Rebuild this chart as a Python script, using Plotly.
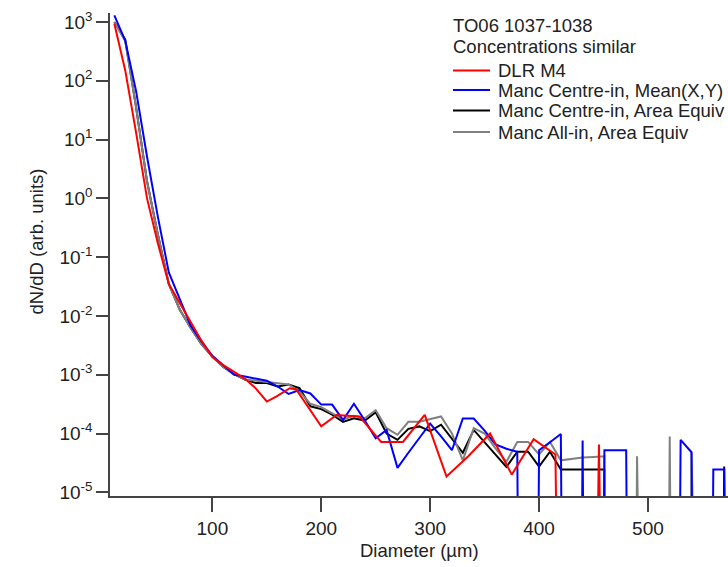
import plotly.graph_objects as go

# ---------------- data ----------------
# 0 means "no counts" (drawn as a drop off the bottom of the log axis, as in the original)
manc_x = [10, 20, 30, 40, 50, 60, 70, 80, 90, 100, 110, 120, 130, 140, 150, 160, 170, 180, 190, 200,
          210, 220, 230, 240, 250, 260, 270, 280, 290, 300, 310, 320, 330, 340, 350, 360, 370, 380, 390, 400,
          410, 420, 430, 440, 450, 460, 470, 480, 490, 500, 510, 520, 530, 540, 550, 560, 570, 580]

blue_mean_xy = [1.3e3, 4.8e2, 66, 5.1, 0.48, 0.055, 0.0195, 6.9e-3, 3.7e-3, 2.1e-3,
                1.45e-3, 1.0e-3, 9.3e-4, 8.7e-4, 7.9e-4, 6.3e-4, 4.7e-4, 5.5e-4, 4.8e-4, 3.1e-4,
                3.1e-4, 1.7e-4, 3.2e-4, 1.66e-4, 8.3e-5, 1.15e-4, 2.6e-5, 4.7e-5, 8.5e-5, 1.48e-4,
                8.9e-5, 5.2e-5, 1.8e-4, 1.8e-4, 1.12e-4, 6.5e-5, 5.5e-5, 4.9e-5, 0, 5.2e-5,
                7.1e-5, 9.8e-5, 0, 7.6e-5, 0, 5.2e-5, 5.2e-5, 5.2e-5, 0, 0,
                0, 0, 7.8e-5, 4.8e-5, 0, 2.45e-5, 2.45e-5, 0]

black_centre_area = [1.0e3, 5.0e2, 35, 1.95, 0.24, 0.035, 0.0129, 6.3e-3, 3.3e-3, 2.04e-3,
                     1.35e-3, 1.02e-3, 8.3e-4, 7.2e-4, 7.2e-4, 6.3e-4, 6.8e-4, 5.9e-4, 2.9e-4, 2.6e-4,
                     2.1e-4, 1.58e-4, 1.82e-4, 1.66e-4, 2.3e-4, 1.0e-4, 7.8e-5, 1.2e-4, 1.32e-4, 1.1e-4,
                     1.41e-4, 8.3e-5, 4.7e-5, 1.15e-4, 7.1e-5, 4.3e-5, 2.7e-5, 4.9e-5, 4.9e-5, 2.75e-5,
                     4.9e-5, 2.45e-5, 2.45e-5, 2.45e-5, 2.45e-5, 2.45e-5, 0, 0, 0, 0,
                     0, 0, 0, 0, 0, 0, 2.75e-5, 0]

gray_allin_area = [1.0e3, 4.7e2, 35, 1.95, 0.24, 0.035, 0.0129, 6.3e-3, 3.3e-3, 2.04e-3,
                   1.35e-3, 1.02e-3, 8.3e-4, 7.9e-4, 7.6e-4, 7.1e-4, 6.8e-4, 5.2e-4, 3.2e-4, 2.8e-4,
                   2.24e-4, 1.74e-4, 2.0e-4, 1.82e-4, 2.5e-4, 1.23e-4, 9.5e-5, 1.58e-4, 1.58e-4, 1.74e-4,
                   1.95e-4, 1.0e-4, 3.5e-5, 1.23e-4, 1.0e-4, 5.6e-5, 3.3e-5, 7.2e-5, 7.2e-5, 4.4e-5,
                   7.2e-5, 3.5e-5, 3.7e-5, 3.9e-5, 4.0e-5, 4.1e-5, 0, 0, 4.1e-5, 0,
                   0, 8.9e-5, 0, 4.8e-5, 0, 0, 0, 0]

dlr_x = [10, 20, 30, 40, 50, 60, 70, 80, 90, 100, 110, 120, 130, 140, 150, 159, 171, 177, 200, 214,
         223, 235, 255, 275, 295, 315, 335, 355, 375, 395, 415, 435, 455, 475]
dlr_m4 = [9.3e2, 1.5e2, 13, 1.0, 0.17, 0.035, 0.0166, 7.8e-3, 3.8e-3, 2.0e-3,
          1.45e-3, 1.12e-3, 8.5e-4, 5.8e-4, 3.5e-4, 4.3e-4, 5.9e-4, 5.6e-4, 1.32e-4, 2.07e-4,
          2.0e-4, 1.95e-4, 7.2e-5, 7.2e-5, 2.07e-4, 1.85e-5, 4.1e-5, 1.0e-4, 2.0e-5, 8.0e-5,
          4.4e-5, 0, 6.5e-5, 0]

x_ticks = [100, 200, 300, 400, 500]
y_tick_exps = [-5, -4, -3, -2, -1, 0, 1, 2, 3]

title_lines = ["TO06 1037-1038", "Concentrations similar"]
legend_names = ["DLR M4", "Manc Centre-in, Mean(X,Y)", "Manc Centre-in, Area Equiv", "Manc All-in, Area Equiv"]
legend_colors = ["#ff0000", "#0000ff", "#000000", "#808080"]

ZERO_FLOOR = 1e-30  # stand-in for empty bins on the log axis


def floor0(vals):
    return [v if v > 0 else ZERO_FLOOR for v in vals]


FONT = "Liberation Sans, Arial, sans-serif"
TXT = "#222222"
AX = "#444444"

fig = go.Figure()
series = [
    (manc_x, black_centre_area, legend_names[2], legend_colors[2]),
    (manc_x, gray_allin_area, legend_names[3], legend_colors[3]),
    (manc_x, blue_mean_xy, legend_names[1], legend_colors[1]),
    (dlr_x, dlr_m4, legend_names[0], legend_colors[0]),
]
for xs, ys, name, col in series:
    fig.add_trace(go.Scatter(x=xs, y=floor0(ys), mode="lines", name=name,
                             line=dict(color=col, width=2), showlegend=False))

# ---- layout geometry ----
W, H = 728, 567
ML, MR, MT, MB = 110, 0, 13, 71
PW, PH = W - ML - MR, H - MT - MB


def px(X):
    return (X - ML) / PW


def py(Y):
    return (H - MB - Y) / PH


annotations = []
shapes = []
# header text of the legend box
for txt, Y in zip(title_lines, [25, 46.5]):
    annotations.append(dict(text=txt, x=px(451), y=py(Y), xref="paper", yref="paper",
                            xanchor="left", yanchor="middle", showarrow=False,
                            font=dict(family=FONT, size=18.5, color=TXT)))
for name, col, Y in zip(legend_names, legend_colors, [70.5, 90, 110.5, 132]):
    shapes.append(dict(type="line", xref="paper", yref="paper", x0=px(453), x1=px(490),
                       y0=py(Y), y1=py(Y), line=dict(color=col, width=2)))
    annotations.append(dict(text=name, x=px(496), y=py(Y), xref="paper", yref="paper",
                            xanchor="left", yanchor="middle", showarrow=False,
                            font=dict(family=FONT, size=18.5, color=TXT)))
# axis titles
annotations.append(dict(text="Diameter (µm)", x=0.5, y=py(550), xref="paper", yref="paper",
                        xanchor="center", yanchor="middle", showarrow=False,
                        font=dict(family=FONT, size=18.5, color=TXT)))
annotations.append(dict(text="dN/dD (arb. units)", x=px(36), y=py(241.5), xref="paper", yref="paper",
                        xanchor="center", yanchor="middle", showarrow=False, textangle=-90,
                        font=dict(family=FONT, size=18.5, color=TXT)))

y_tickvals = [10.0 ** e for e in y_tick_exps]
y_ticktext = ["10<sup>%d</sup>" % e for e in y_tick_exps]

fig.update_layout(
    width=W, height=H,
    margin=dict(l=ML, r=MR, t=MT, b=MB, autoexpand=False),
    paper_bgcolor="white", plot_bgcolor="white",
    font=dict(family=FONT, size=19, color=TXT),
    showlegend=False,
    annotations=annotations,
    shapes=shapes,
    xaxis=dict(range=[6, 573.5], tickvals=x_ticks, ticktext=[str(v) for v in x_ticks],
               showline=True, linecolor=AX, linewidth=1.5, ticks="outside", ticklen=14,
               tickwidth=1.5, tickcolor=AX, showgrid=False, zeroline=False, automargin=False,
               tickfont=dict(family=FONT, size=19, color=TXT)),
    yaxis=dict(type="log", range=[-5.063, 3.153],
               tickvals=y_tickvals, ticktext=y_ticktext,
               showline=True, linecolor=AX, linewidth=1.5, ticks="outside", ticklen=12,
               tickwidth=1.5, tickcolor=AX, showgrid=False, zeroline=False, automargin=False,
               tickfont=dict(family=FONT, size=19, color=TXT)),
)

fig.write_html("out.html",
               config={"displayModeBar": False},
               post_script="document.body.style.margin='0';document.body.style.padding='0';"
                           "document.documentElement.style.overflow='hidden';")
